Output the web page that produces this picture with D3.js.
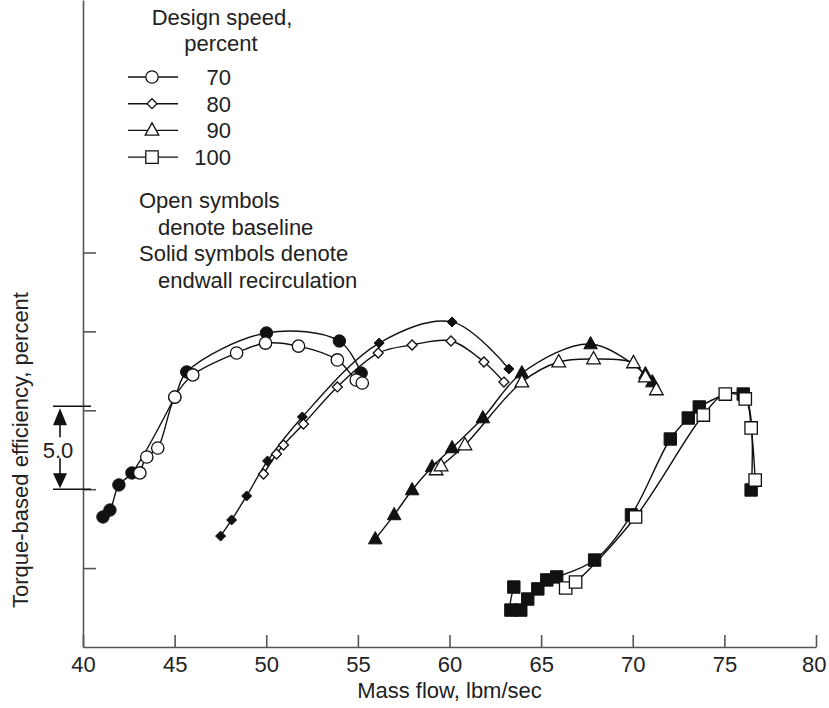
<!DOCTYPE html>
<html>
<head>
<meta charset="utf-8">
<script src="https://cdn.jsdelivr.net/npm/d3@7"></script>
<style>
  body { margin: 0; background: #fff; }
  text { font-family: "Liberation Sans", Arial, sans-serif; fill: #222; }
</style>
</head>
<body>
<div class="chart"></div>
<script>
// mass flow (lbm/sec), torque-based efficiency (percent)
const speed70Open = [[43.10,76.03],[43.48,77.04],[44.08,77.61],[45.01,80.84],[45.99,82.24],[48.38,83.63],[49.96,84.26],[51.76,84.07],[53.88,83.19],[54.91,81.92],[55.24,81.73]]
const speed70Solid = [[41.09,73.24],[41.47,73.68],[41.96,75.27],[42.67,76.03],[45.01,80.84],[45.66,82.43],[50.01,84.90],[53.99,84.39],[55.18,82.36]]
const speed80Open = [[49.85,75.96],[50.56,77.23],[50.94,77.80],[52.03,79.13],[53.88,81.48],[56.11,83.63],[57.96,84.14],[60.08,84.39],[61.88,83.06],[62.97,81.79]]
const speed80Solid = [[47.51,72.03],[48.11,73.05],[48.93,74.57],[50.07,76.79],[51.97,79.58],[56.16,84.26],[60.14,85.60],[63.24,82.62]]
const speed90Open = [[59.27,76.22],[59.54,76.47],[60.84,77.80],[63.95,81.79],[65.96,83.06],[67.86,83.25],[70.04,83.00],[70.69,82.11],[71.29,81.29]]
const speed90Solid = [[55.95,71.84],[56.98,73.37],[57.96,74.95],[59.05,76.41],[60.14,77.61],[61.82,79.51],[63.95,82.36],[67.70,84.20],[70.69,82.30],[71.07,81.79]]
const speed100Open = [[66.34,68.74],[66.88,69.12],[70.15,73.24],[73.85,79.70],[75.05,81.03],[76.14,80.72],[76.46,78.88],[76.68,75.58]]
const speed100Solid = [[63.51,68.80],[63.35,67.34],[63.89,67.34],[64.27,68.04],[64.82,68.68],[65.31,69.25],[65.85,69.44],[67.92,70.51],[69.93,73.37],[72.05,78.18],[73.03,79.51],[73.63,80.21],[76.03,81.03],[76.46,74.95]]

const speeds = [70, 80, 90, 100]
const symbols = ["circle", "diamond", "triangle", "square"]
const xTicks = [40, 45, 50, 55, 60, 65, 70, 75, 80]
const yTicks = [70, 75, 80, 85, 90]
const noteLines = ["Open symbols", "denote baseline", "Solid symbols denote", "endwall recirculation"]

const series = [
  {speed: 70, open: speed70Open, solid: speed70Solid},
  {speed: 80, open: speed80Open, solid: speed80Solid},
  {speed: 90, open: speed90Open, solid: speed90Solid},
  {speed: 100, open: speed100Open, solid: speed100Solid}
]

const width = 829
const height = 708
const plot = {left: 83, right: 816, top: 0, bottom: 647}
const fontSize = 22

const svg = d3.select(".chart").append("svg")
    .attr("width", width)
    .attr("height", height)

const x = d3.scaleLinear()
    .domain([40, 80])
    .range([plot.left, plot.right])

const y = d3.scaleLinear()
    .domain([65, 106])
    .range([plot.bottom, plot.top])

// marker shapes, centred at 0,0
function marker(type) {
  switch (type) {
    case "circle":
      return "M6.2,0A6.2,6.2 0 1,1 -6.2,0A6.2,6.2 0 1,1 6.2,0Z"
    case "diamond":
      return "M0,-5L5,0L0,5L-5,0Z"
    case "triangle":
      return "M0,-7.5L6.8,4.8L-6.8,4.8Z"
    case "square":
      return "M-6.2,-6.2H6.2V6.2H-6.2Z"
  }
}
const symbolOf = s => symbols[speeds.indexOf(s)]

// axes
const xAxis = d3.axisBottom(x)
    .tickValues(xTicks)
    .tickSizeInner(-12)
    .tickSizeOuter(0)
    .tickPadding(9)

const yAxis = d3.axisLeft(y)
    .tickValues(yTicks)
    .tickSizeInner(-13)
    .tickSizeOuter(0)
    .tickFormat("")

const xGroup = svg.append("g")
    .attr("transform", `translate(0, ${plot.bottom})`)
    .call(xAxis)
const yGroup = svg.append("g")
    .attr("transform", `translate(${plot.left}, 0)`)
    .call(yAxis)

;[xGroup, yGroup].forEach(g => {
  g.selectAll(".domain, .tick line").attr("stroke", "#555").attr("stroke-width", 1.6)
  g.selectAll("text").attr("font-size", fontSize).attr("fill", "#222")
    .attr("font-family", '"Liberation Sans", Arial, sans-serif')
})
// keep the last label inside the page
xGroup.selectAll(".tick text").filter(d => d === 80).attr("dx", "-0.1em")

svg.append("text")
    .attr("x", (plot.left + plot.right) / 2)
    .attr("y", 698)
    .attr("text-anchor", "middle")
    .attr("font-size", fontSize)
    .text("Mass flow, lbm/sec")

svg.append("text")
    .attr("transform", "translate(28, 450) rotate(-90)")
    .attr("text-anchor", "middle")
    .attr("font-size", fontSize)
    .text("Torque-based efficiency, percent")

// 5.0 percent scale bar
const barTop = y(80), barBottom = y(75), barX = 60
const bar = svg.append("g").attr("stroke", "#111").attr("stroke-width", 1.6)
bar.append("line").attr("x1", 53).attr("x2", 91).attr("y1", barTop - 4).attr("y2", barTop - 4)
bar.append("line").attr("x1", 53).attr("x2", 91).attr("y1", barBottom).attr("y2", barBottom)
bar.append("line").attr("x1", barX).attr("x2", barX).attr("y1", barTop + 10).attr("y2", barTop + 27)
bar.append("line").attr("x1", barX).attr("x2", barX).attr("y1", barBottom - 31).attr("y2", barBottom - 12)
svg.append("path")
    .attr("d", `M${barX},${barTop - 2}L${barX + 7},${barTop + 15}L${barX - 7},${barTop + 15}Z`)
    .attr("fill", "#111")
svg.append("path")
    .attr("d", `M${barX},${barBottom - 1}L${barX + 7},${barBottom - 16}L${barX - 7},${barBottom - 16}Z`)
    .attr("fill", "#111")
svg.append("text")
    .attr("x", 58)
    .attr("y", (barTop + barBottom) / 2 + 8)
    .attr("text-anchor", "middle")
    .attr("font-size", fontSize)
    .text("5.0")

// curves
const line = d3.line()
    .curve(d3.curveCatmullRom.alpha(0.5))
    .x(d => x(d[0]))
    .y(d => y(d[1]))

const curves = series.flatMap(s => [s.open, s.solid])
svg.selectAll(".curve")
    .data(curves)
    .join("path")
    .attr("class", "curve")
    .attr("d", line)
    .attr("fill", "none")
    .attr("stroke", "#111")
    .attr("stroke-width", 1.4)

// solid symbols under open ones
series.forEach(s => {
  svg.append("g").selectAll("path")
      .data(s.solid)
      .join("path")
      .attr("transform", d => `translate(${x(d[0])},${y(d[1])})`)
      .attr("d", marker(symbolOf(s.speed)))
      .attr("fill", "#111")
      .attr("stroke", "#111")
      .attr("stroke-width", 1)
})
series.forEach(s => {
  svg.append("g").selectAll("path")
      .data(s.open)
      .join("path")
      .attr("transform", d => `translate(${x(d[0])},${y(d[1])})`)
      .attr("d", marker(symbolOf(s.speed)))
      .attr("fill", "#fff")
      .attr("stroke", "#111")
      .attr("stroke-width", 1.3)
})

// legend
svg.append("text").attr("x", 222).attr("y", 25).attr("text-anchor", "middle")
    .attr("font-size", fontSize).text("Design speed,")
svg.append("text").attr("x", 221).attr("y", 51).attr("text-anchor", "middle")
    .attr("font-size", fontSize).text("percent")

const legend = svg.selectAll(".legend")
    .data(speeds)
    .join("g")
    .attr("class", "legend")
    .attr("transform", (d, i) => `translate(0, ${77 + i * 26.7})`)
legend.append("line")
    .attr("x1", 128).attr("x2", 178)
    .attr("stroke", "#111").attr("stroke-width", 1.4)
legend.append("path")
    .attr("transform", "translate(152, 0)")
    .attr("d", d => marker(symbolOf(d)))
    .attr("fill", "#fff").attr("stroke", "#111").attr("stroke-width", 1.3)
legend.append("text")
    .attr("x", 231).attr("y", 8)
    .attr("text-anchor", "end")
    .attr("font-size", fontSize)
    .text(d => d)

svg.selectAll(".note")
    .data(noteLines)
    .join("text")
    .attr("class", "note")
    .attr("x", (d, i) => i % 2 ? 158 : 139)
    .attr("y", (d, i) => 208 + i * 26.7)
    .attr("font-size", fontSize)
    .text(d => d)
</script>
</body>
</html>
